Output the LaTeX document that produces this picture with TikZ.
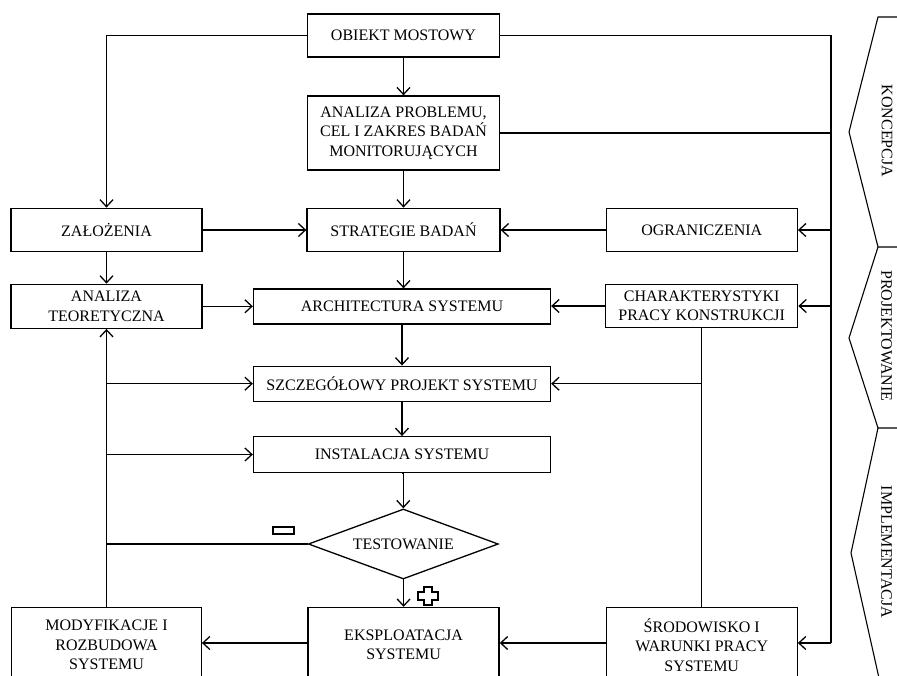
\documentclass[tikz,border=0pt]{standalone}
\usepackage{fontspec}
\setmainfont{Liberation Serif}
\usetikzlibrary{arrows.meta,shapes.geometric}
\begin{document}
\begin{tikzpicture}[x=1pt,y=-1pt,
  every node/.style={font=\fontsize{16}{19.5}\selectfont},
  box/.style={draw, line width=1.3pt, inner sep=0pt, align=center},
  wide/.style={box, minimum width=297pt, minimum height=35pt},
  side/.style={box, minimum width=191pt, minimum height=43.5pt},
  link/.style={line width=1.3pt},
  arr/.style={link, -{Straight Barb[length=7pt,width=13pt]}},
  phase/.style={rotate=-90, font=\fontsize{16}{19}\selectfont}]
\useasboundingbox (0,0) rectangle (897,675);
\clip (0,0) rectangle (897,675);

% central column
\node[box, minimum width=192pt, minimum height=43pt] (obiekt) at (403.5,35.5) {OBIEKT MOSTOWY};
\node[box, minimum width=192pt, minimum height=74pt] (problem) at (403.5,133) {ANALIZA PROBLEMU,\\CEL I ZAKRES BADAŃ\\MONITORUJĄCYCH};
\node[side, minimum width=193pt] (strategie) at (403.5,230) {STRATEGIE BADAŃ};
\node[wide] (arch) at (402,306.5) {ARCHITECTURA SYSTEMU};
\node[wide] (szcz) at (402,383.7) {SZCZEGÓŁOWY PROJEKT SYSTEMU};
\node[wide, minimum height=35.6pt] (inst) at (402,454.5) {INSTALACJA SYSTEMU};
\node[draw, diamond, line width=1.3pt, inner sep=0pt, shape aspect=2.7,
      minimum width=190pt, minimum height=70pt] (test) at (403.3,544) {TESTOWANIE};
\node[box, minimum width=191pt, minimum height=75pt] (eksp) at (403.6,645) {EKSPLOATACJA\\SYSTEMU};

% left column
\node[side] (zal) at (106.5,230) {ZAŁOŻENIA};
\node[side, minimum height=44pt] (teor) at (106.5,306.3) {ANALIZA\\TEORETYCZNA};
\node[box, minimum width=189.5pt, minimum height=75pt] (modyf) at (106.5,645) {MODYFIKACJE I\\ROZBUDOWA\\SYSTEMU};

% right column
\node[side] (ogr) at (701.8,230) {OGRANICZENIA};
\node[side, minimum width=192pt] (char) at (701.7,306) {CHARAKTERYSTYKI\\PRACY KONSTRUKCJI};
\node[box, minimum width=191pt, minimum height=75pt] (srod) at (701.7,645) {ŚRODOWISKO I\\WARUNKI PRACY\\SYSTEMU};

% phase labels
\node[phase] (koncepcja) at (887,131) {KONCEPCJA};
\node[phase] (projektowanie) at (886.5,336) {PROJEKTOWANIE};
\node[phase] (implementacja) at (886.5,552) {IMPLEMENTACJA};

% phase chevrons
\draw[link, line width=1.1pt] (897,17) -- (878,17) -- (849,132) -- (878,247) -- (897,247);
\draw[link, line width=1.1pt] (878,247) -- (849,338) -- (878,428) -- (897,428);
\draw[link, line width=1.1pt] (878,428) -- (851,553) -- (879,678);

% main flow
\draw[arr] (obiekt) -- (problem);
\draw[arr] (problem) -- (strategie);
\draw[arr] (strategie.south) -- (strategie.south |- arch.north);
\draw[arr] (arch.south) -- (arch.south |- szcz.north);
\draw[arr] (szcz.south) -- (szcz.south |- inst.north);
\draw[arr] (inst.south) -- (inst.south -| test.north) -- (test.north);
\draw[arr] (test.south) -- (test.south -| eksp.north) -- (eksp.north);

% left branch
\draw[arr] (obiekt.west) -| (zal.north);
\draw[arr] (zal.east) -- (strategie.west |- zal.east);
\draw[arr] (zal.south) -- (teor.north);
\draw[arr] (teor.east) -- (arch.west |- teor.east);
\coordinate (lft) at (106.7,0);
\draw[arr] (modyf.north) -- (teor.south);
\draw[arr] (lft |- szcz.west) -- (szcz.west);
\draw[arr] (lft |- inst.west) -- (inst.west);
\draw[link] (test.west) -- (lft |- test.west);

% right branch
\coordinate (rtop) at (831,35.5);
\coordinate (rbot) at (831,643);
\draw[link] (obiekt.east) -- (rtop) -- (rbot);
\draw[link] (problem.east) -- (rtop |- problem.east);
\draw[arr] (rtop |- ogr.east) -- (ogr.east);
\draw[arr] (rtop |- char.east) -- (char.east);
\draw[arr] (rbot) -- (srod.east |- rbot);
\draw[arr] (ogr.west) -- (strategie.east |- ogr.west);
\draw[arr] (char.west) -- (arch.east |- char.west);
\draw[link] (char.south) -- (srod.north);
\draw[arr] (char.south |- szcz.east) -- (szcz.east);

% bottom row
\draw[arr] (srod.west |- rbot) -- (eksp.east |- rbot);
\draw[arr] (eksp.west |- rbot) -- (modyf.east |- rbot);

% outcome marks of the test
\draw[line width=1.2pt] (273,527) rectangle (294,534);
\draw[line width=1.2pt] (424,587) -- (432,587) -- (432,592) -- (438,592) -- (438,600)
  -- (432,600) -- (432,605) -- (424,605) -- (424,600) -- (418,600) -- (418,592)
  -- (424,592) -- cycle;
\end{tikzpicture}
\end{document}
